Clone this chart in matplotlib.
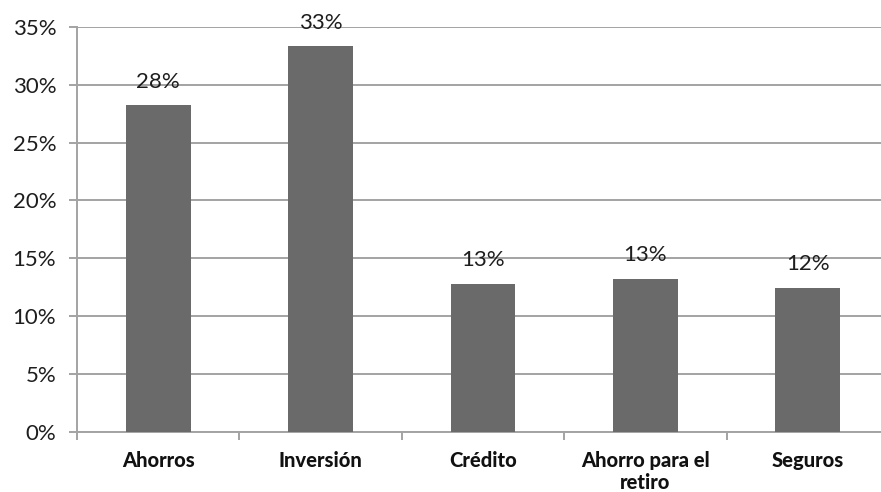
import matplotlib
matplotlib.use("Agg")
import matplotlib.pyplot as plt
from matplotlib.ticker import FuncFormatter, MultipleLocator, FixedLocator

plt.rcParams['font.family'] = ['Lato', 'DejaVu Sans']

# porcentaje de respuestas por producto
categorias = ["Ahorros", "Inversión", "Crédito", "Ahorro para el\nretiro", "Seguros"]
valores = [0.282, 0.333, 0.128, 0.132, 0.124]

gris_barra = "#6a6a6a"
gris_linea = "#a3a3a3"

fig = plt.figure(figsize=(8.81, 4.92), dpi=100)
ax = fig.add_axes([0.0874, 0.1225, 0.9217, 0.823])

x = list(range(len(categorias)))
ax.bar(x, valores, width=0.4, color=gris_barra, zorder=3)

for xi, v in zip(x, valores):
    ax.annotate(f"{v:.0%}", (xi, v), xytext=(0, 10), textcoords="offset points",
                ha="center", va="bottom", fontsize=16, color="#1e1e1e")

ax.set_ylim(0, 0.35)
ax.set_xlim(-0.5, len(categorias) - 0.5)
ax.yaxis.set_major_locator(MultipleLocator(0.05))
ax.yaxis.set_major_formatter(FuncFormatter(lambda v, _: f"{v:.0%}"))
ax.grid(axis="y", color=gris_linea, linewidth=1.4, zorder=0)

# ticks del eje x entre categorias, etiquetas centradas
ax.xaxis.set_major_locator(FixedLocator([i - 0.5 for i in range(len(categorias) + 1)]))
ax.xaxis.set_major_formatter(FuncFormatter(lambda v, _: ""))
ax.set_xticks(x, minor=True)
ax.set_xticklabels(categorias, minor=True, fontsize=14.5, fontweight="black",
                   color="#111111", linespacing=1.2)
ax.tick_params(axis="x", which="minor", length=0, pad=14)
ax.tick_params(axis="x", which="major", length=6, width=1.4, color=gris_linea)
ax.tick_params(axis="y", length=6, width=1.4, color=gris_linea, labelsize=16,
               labelcolor="#1e1e1e", pad=9)

for s in ["top", "right"]:
    ax.spines[s].set_visible(False)
for s in ["left", "bottom"]:
    ax.spines[s].set_color(gris_linea)
    ax.spines[s].set_linewidth(1.4)

fig.savefig("out.png", dpi=100)
